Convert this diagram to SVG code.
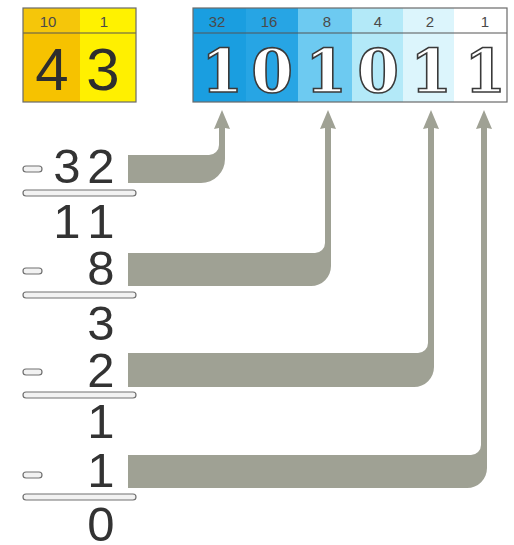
<svg xmlns="http://www.w3.org/2000/svg" width="514" height="545" viewBox="0 0 514 545">
<style>
.hdr{font-family:"Liberation Sans",Arial,sans-serif;font-size:15px;fill:#4a4a4a;text-anchor:middle}
.big{font-family:"DejaVu Serif",serif;font-weight:bold;font-size:60px;fill:#fff;stroke:#3a3a3a;stroke-width:1.6;text-anchor:middle}
.dec{font-family:"Liberation Sans",Arial,sans-serif;font-size:60px;fill:#2e2e2e;text-anchor:middle}
.num{font-family:"Liberation Sans",Arial,sans-serif;font-size:49px;fill:#333;text-anchor:middle}
.bar{fill:#f2f2f2;stroke:#707070;stroke-width:1.2}
.band{fill:#9fa194}
.frame{fill:none;stroke:#6a6a6a;stroke-width:1.2}
</style>
<rect width="514" height="545" fill="#fff"/>
<g id="decimal">
<rect x="23" y="8" width="57" height="94" fill="#f6c200"/>
<rect x="80" y="8" width="56" height="94" fill="#fff000"/>
<rect x="23" y="8" width="57" height="25" fill="#f5c60a"/>
<rect x="80" y="8" width="56" height="25" fill="#fff200"/>
<line x1="23" y1="33" x2="136" y2="33" stroke="#555" stroke-width="1.2"/>
<rect class="frame" x="23" y="8" width="113" height="94"/>
<text class="hdr" x="48" y="27">10</text>
<text class="hdr" x="104" y="27">1</text>
<text class="dec" x="52" y="90">4</text>
<text class="dec" x="103" y="90">3</text>
</g>
<g id="binary">
<rect x="193" y="8" width="53" height="94" fill="#1a9ee0"/>
<rect x="246" y="8" width="52" height="94" fill="#27a5e4"/>
<rect x="298" y="8" width="54" height="94" fill="#6dcaf1"/>
<rect x="352" y="8" width="51" height="94" fill="#b3e9f8"/>
<rect x="403" y="8" width="51" height="94" fill="#dcf5fc"/>
<rect x="454" y="8" width="53" height="94" fill="#ffffff"/>
<line x1="193" y1="33" x2="507" y2="33" stroke="#555" stroke-width="1.2"/>
<rect class="frame" x="193" y="8" width="314" height="94"/>
<text class="hdr" x="217" y="27">32</text>
<text class="hdr" x="269" y="27">16</text>
<text class="hdr" x="327" y="27">8</text>
<text class="hdr" x="378" y="27">4</text>
<text class="hdr" x="430" y="27">2</text>
<text class="hdr" x="485" y="27">1</text>
<text class="big" x="222" y="92">1</text>
<text class="big" x="272" y="92">0</text>
<text class="big" x="326" y="92">1</text>
<text class="big" x="378" y="92">0</text>
<text class="big" x="431" y="92">1</text>
<text class="big" x="485" y="92">1</text>
</g>
<g id="step1">
<rect class="bar" x="23" y="166" width="19" height="6" rx="3"/>
<text class="num" x="67" y="183">3</text>
<text class="num" x="101" y="183">2</text>
<rect class="bar" x="23" y="190" width="113" height="6" rx="3"/>
<text class="num" x="67" y="238">1</text>
<text class="num" x="101" y="238">1</text>
</g>
<g id="step2">
<rect class="bar" x="23" y="268" width="19" height="6" rx="3"/>
<text class="num" x="101" y="285">8</text>
<rect class="bar" x="23" y="292" width="113" height="6" rx="3"/>
<text class="num" x="101" y="340">3</text>
</g>
<g id="step3">
<rect class="bar" x="23" y="369" width="19" height="6" rx="3"/>
<text class="num" x="101" y="387">2</text>
<rect class="bar" x="23" y="392" width="113" height="6" rx="3"/>
<text class="num" x="101" y="438">1</text>
</g>
<g id="step4">
<rect class="bar" x="23" y="472" width="19" height="6" rx="3"/>
<text class="num" x="101" y="487">1</text>
<rect class="bar" x="23" y="494" width="113" height="6" rx="3"/>
<text class="num" x="101" y="541">0</text>
</g>
<g id="connectors">
<path class="band" d="M128,155 H209 A10,10 0 0 0 219,145 V128 L214,129 L222,110 L230,129 L225,128 V159 A24,24 0 0 1 201,183 H128 Z"/>
<path class="band" d="M128,253 H315 A10,10 0 0 0 325,243 V128 L320,129 L328,110 L336,129 L331,128 V266 A20,20 0 0 1 311,286 H128 Z"/>
<path class="band" d="M128,353 H418 A10,10 0 0 0 428,343 V128 L423,129 L431,110 L439,129 L434,128 V367 A20,20 0 0 1 414,387 H128 Z"/>
<path class="band" d="M128,455 H471 A10,10 0 0 0 481,445 V128 L476,129 L484,110 L492,129 L487,128 V468 A20,20 0 0 1 467,488 H128 Z"/>
</g>
</svg>
